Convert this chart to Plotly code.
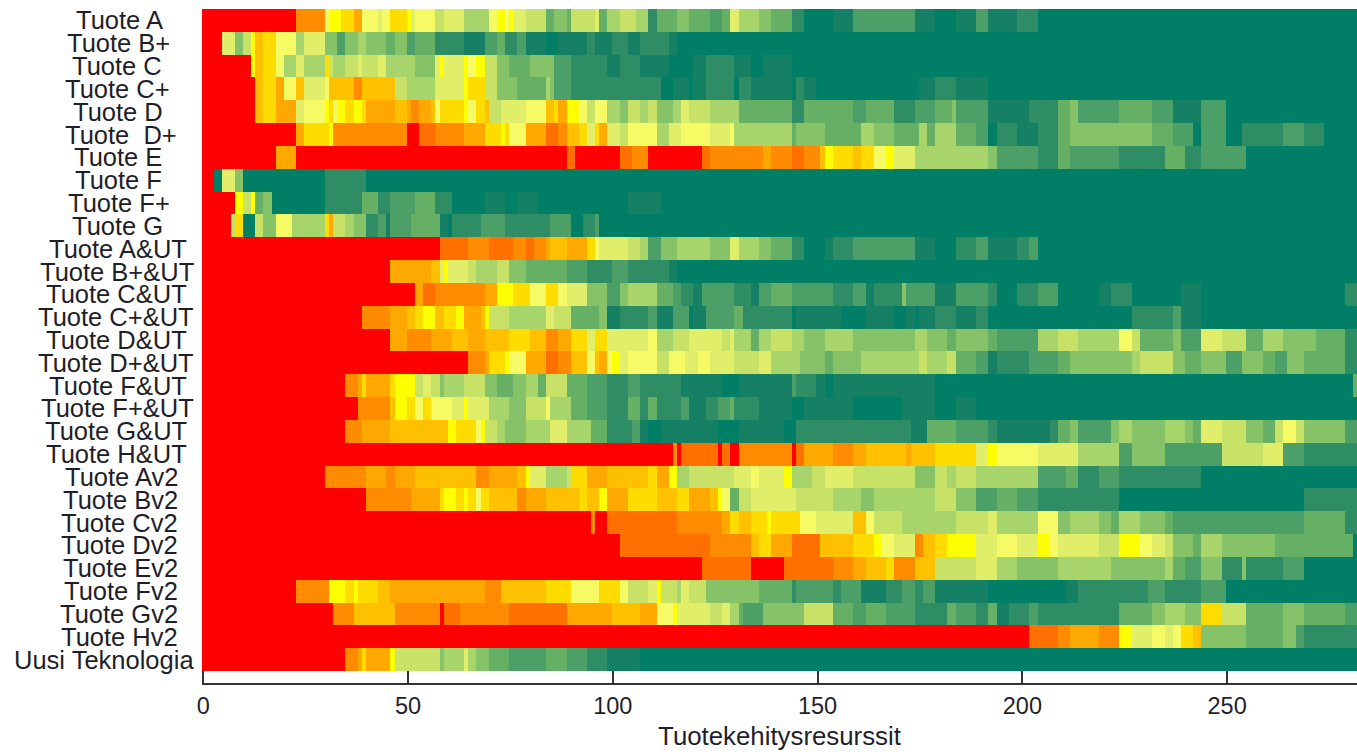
import plotly.graph_objects as go

# Rows as (end column, level) pairs; level 0 = red ... 16 = dark green
products = ["Tuote A","Tuote B+","Tuote C","Tuote C+","Tuote D","Tuote  D+","Tuote E","Tuote F","Tuote F+","Tuote G",
            "Tuote A&UT","Tuote B+&UT","Tuote C&UT","Tuote C+&UT","Tuote D&UT","Tuote D+&UT","Tuote F&UT","Tuote F+&UT","Tuote G&UT","Tuote H&UT",
            "Tuote Av2","Tuote Bv2","Tuote Cv2","Tuote Dv2","Tuote Ev2","Tuote Fv2","Tuote Gv2","Tuote Hv2","Uusi Teknologia"]
label_right = [163,170,162,170,163,177,162,162,170,163,187,194,187,194,187,194,187,194,187,187,178,178,178,178,178,178,178,178,194]

level_colors = ["#FF0000","#FF7000","#FF8C00","#FFA800","#FFC000","#FFDC00","#FFFF00","#F6FA64","#E0EE6A","#C8E268",
                "#A8D46C","#86C268","#66B066","#4C9F66","#2E8D64","#168064","#007F66"]

ticks_x = [0,50,100,150,200,250]
n_cols = 282

r_a = [(23,0),(30,2),(31,7),(34,6),(37,5),(39,3),(43,7),(44,8),(46,7),(50,5),(51,6),(52,8),(57,7),(59,9),(63.7,8),(70,10),(72,7),(74,6),(75,7),(76,6),(79,8),(84,9),(86,12),(89,11),(90,12),(96,9),(97,8),(99,12),(102,10),(106,9),(109,10),(111,14),(116,12),(119,11),(124,12),(127,13),(129,12),(131,8),(136,10),(139,11),(144,12),(147,14),(154,16),(159,15),(167,13),(174,13),(179,15),(184,16),(189,15),(192,13),(199,15),(204,14),(282,16)]
r_bp = [(5,0),(8,8),(10,11),(12,9),(13,6),(15,4),(18,5),(23,7),(25,10),(30,8),(33,11),(35,13),(38,11),(40,10),(45,11),(47,12),(50,11),(52,13),(57,12),(64,14),(69,15),(72,13),(74,12),(77,14),(79,13),(84,15),(87,16),(94,15),(96,14),(100,15),(104,14),(107,15),(114,14),(116,15),(282,16)]
r_c = [(12,0),(13,6),(15,4),(18,5),(20,7),(23,10),(25,8),(30,10),(31,5),(32,9),(35,10),(38,9),(39,8),(43,9),(45,8),(47,10),(52,10),(57,11),(58,8),(59,6),(64,8),(65,6),(67,7),(69,6),(72,9),(75,11),(80,12),(84,11),(86,11),(90,13),(97,14),(99,14),(102,15),(107,14),(114,15),(120,16),(123,15),(130,14),(134,15),(137,16),(144,15),(282,16)]
r_cp = [(13,0),(15,4),(18,5),(20,3),(23,7),(25,4),(30,8),(31,7),(35,4),(37,4),(39,2),(43,4),(47,4),(50,9),(52,10),(57,10),(59,8),(64,8),(65,6),(69,5),(72,9),(77,11),(80,12),(84,12),(85,10),(86,11),(90,13),(107,14),(112,14),(115,16),(119,15),(120,16),(123,15),(130,14),(131,16),(134,14),(137,15),(144,15),(145,16),(147,14),(150,15),(175,16),(179,15),(184,14),(192,15),(282,16)]
r_d = [(13,0),(15,4),(18,5),(23,3),(25,8),(30,7),(31,6),(32,5),(33,7),(35,6),(37,5),(39,6),(40,5),(47,3),(50,4),(51,3),(53,2),(56,3),(57,4),(58,7),(61,5),(64,5),(65,6),(67,7),(69,5),(70,4),(73,9),(79,8),(84,7),(86,4),(87,5),(89,3),(92,6),(94,7),(96,9),(99,7),(102,10),(104,11),(107,9),(109,10),(111,9),(115,11),(117,10),(119,8),(124,9),(131,10),(144,12),(147,14),(154,12),(159,12),(162,13),(169,12),(174,14),(179,13),(183,12),(184,11),(192,13),(202,15),(209,14),(212,12),(214,11),(224,13),(232,12),(237,13),(244,15),(250,13),(282,16)]
r_dp = [(23,0),(25,3),(31,5),(32,6),(50,2),(53,0),(57,1),(64,2),(69,3),(73,5),(74,6),(75,5),(79,7),(84,3),(87,1),(89,2),(92,4),(94,5),(96,8),(97,5),(99,3),(102,8),(104,9),(111,7),(114,10),(117,8),(124,7),(129,8),(130,7),(144,10),(145,12),(152,11),(161,12),(164,10),(169,11),(174,12),(175,12),(177,10),(179,12),(184,10),(189,12),(192,13),(194,16),(199,14),(204,15),(209,14),(212,12),(219,11),(232,11),(237,12),(242,13),(244,16),(250,13),(254,16),(264,14),(269,13),(274,14),(282,16)]
r_e = [(18,0),(23,3),(89,0),(91,1),(102,0),(105,1),(109,2),(122,0),(124,1),(131,2),(137,2),(139,3),(144,2),(147,1),(151,2),(152,4),(154,6),(159,5),(161,4),(164,5),(167,7),(169,6),(174,8),(177,10),(192,10),(194,11),(199,13),(204,13),(209,14),(212,12),(224,13),(235,14),(240,12),(244,14),(255,13),(282,16)]
r_f = [(3,0),(5,16),(8,8),(10,11),(30,16),(40,14),(282,16)]
r_fp = [(8,0),(10,6),(12,9),(13,6),(15,12),(17,11),(30,16),(39,14),(43,12),(46,14),(52,13),(57,12),(61,14),(69,16),(74,15),(77,16),(82,15),(104,16),(112,15),(282,16)]
r_g = [(7,0),(8,9),(10,5),(13,16),(15,9),(18,11),(22,7),(30,10),(31,5),(32,3),(35,9),(37,10),(40,11),(43,14),(45,13),(46,15),(51,13),(58,12),(60,15),(61,16),(68,14),(74,13),(85,14),(90,13),(93,16),(96,14),(97,13),(282,16)]
r_a_ut = [(58,0),(65,1),(70,2),(76,1),(79,2),(81,1),(84,2),(85,3),(89,4),(94,3),(96,5),(97,7),(104,8),(107,9),(109,10),(112,13),(116,11),(124,10),(129,11),(131,8),(136,10),(139,11),(144,12),(147,14),(152,16),(154,15),(159,14),(174,13),(179,15),(184,16),(189,14),(192,13),(199,15),(202,14),(204,13),(282,16)]
r_bp_ut = [(46,0),(56,3),(58,4),(59,8),(60,6),(65,8),(67,9),(72,10),(75,9),(79,11),(84,12),(89,12),(94,13),(100,14),(104,13),(114,14),(116,15),(282,16)]
r_c_ut = [(52,0),(54,3),(57,1),(69,2),(72,3),(76,6),(80,5),(84,7),(87,5),(89,7),(94,8),(99,11),(102,13),(104,11),(111,10),(115,12),(117,13),(120,14),(122,15),(130,13),(134,14),(136,15),(139,13),(144,12),(154,13),(159,14),(162,13),(164,15),(171,14),(172,11),(179,13),(184,15),(192,13),(194,14),(199,16),(204,14),(209,13),(219,16),(222,15),(227,14),(239,16),(244,15),(279,16),(282,14)]
r_cp_ut = [(39,0),(46,2),(50,3),(52,4),(54,5),(57,6),(59,4),(62,5),(64,6),(68,3),(69,4),(70,6),(75,9),(84,10),(86,8),(90,9),(97,12),(99,11),(102,15),(109,14),(111,13),(115,15),(119,13),(120,16),(123,15),(130,13),(132,12),(144,14),(145,16),(156,15),(162,16),(169,15),(172,16),(174,15),(175,16),(179,15),(184,14),(189,15),(192,14),(227,16),(237,14),(239,13),(244,15),(282,16)]
r_d_ut = [(46,0),(50,3),(56,2),(61,3),(65,4),(69,3),(75,4),(80,5),(84,4),(87,2),(90,3),(94,5),(96,8),(99,5),(104,8),(109,8),(111,7),(115,10),(119,9),(127,8),(129,9),(130,8),(134,10),(136,12),(139,10),(144,9),(147,10),(152,11),(159,10),(174,11),(177,10),(182,11),(184,12),(192,11),(194,12),(204,13),(209,10),(214,9),(224,10),(227,7),(229,9),(237,12),(239,11),(244,13),(249,8),(255,9),(259,12),(264,10),(272,11),(279,12),(282,14)]
r_dp_ut = [(65,0),(69,2),(70,3),(74,5),(75,6),(79,7),(84,3),(87,1),(90,2),(94,4),(96,7),(97,4),(99,3),(100,7),(102,6),(104,8),(109,7),(111,7),(114,9),(118,7),(121,8),(124,7),(127,8),(130,8),(136,9),(139,8),(146,10),(152,11),(154,12),(161,11),(171,10),(175,10),(177,9),(182,10),(184,9),(189,12),(192,13),(194,15),(202,14),(209,13),(212,12),(224,11),(227,11),(229,10),(237,9),(240,11),(244,12),(250,11),(254,13),(259,11),(262,12),(265,13),(269,11),(279,12),(282,14)]
r_f_ut = [(35,0),(38,2),(39,3),(40,5),(46,3),(47,5),(52,6),(54,9),(56,8),(58,9),(59,11),(64,10),(69,9),(72,11),(76,12),(79,11),(82,10),(84,12),(89,9),(94,12),(99,13),(104,14),(107,13),(117,14),(127,15),(131,16),(144,15),(145,13),(150,14),(152,15),(154,16),(179,15),(281,16),(282,12)]
r_fp_ut = [(38,0),(46,2),(47,4),(50,6),(52,5),(54,7),(56,5),(61,7),(64,8),(65,6),(70,8),(75,10),(79,11),(84,9),(85,7),(90,10),(94,12),(99,13),(104,14),(107,12),(109,14),(111,12),(117,14),(119,13),(123,15),(126,14),(129,13),(130,12),(136,14),(144,15),(147,16),(159,15),(171,16),(179,15),(184,16),(189,15),(282,16)]
r_g_ut = [(35,0),(39,2),(46,3),(60,4),(62,6),(67,5),(68,7),(69,6),(72,9),(74,10),(79,11),(85,10),(89,8),(95,10),(99,12),(105,14),(107,13),(109,15),(112,16),(126,15),(131,16),(142,15),(145,16),(160,14),(173,14),(177,15),(184,12),(192,13),(194,14),(207,15),(209,14),(212,12),(214,11),(222,13),(224,11),(227,10),(235,11),(240,10),(242,11),(244,12),(249,8),(255,9),(259,11),(262,12),(264,9),(267,7),(269,9),(279,11),(282,13)]
r_h_ut = [(115,0),(116,2),(117,0),(126,1),(127,0),(129,1),(131,0),(144,2),(145,0),(147,1),(154,3),(159,2),(162,3),(172,4),(173,3),(179,4),(189,5),(192,8),(194,6),(204,7),(214,8),(224,10),(227,13),(235,11),(249,13),(255,9),(259,9),(264,8),(269,13),(282,14)]
r_av2 = [(30,0),(40,2),(45,3),(47,2),(52,3),(67,4),(70,2),(77,3),(79,4),(80,6),(84,8),(89,10),(90,9),(94,5),(99,3),(109,4),(111,5),(114,3),(116,6),(119,10),(130,9),(134,8),(136,7),(142,8),(144,6),(149,10),(152,9),(159,8),(174,9),(179,11),(182,9),(184,10),(189,9),(204,10),(211,13),(214,12),(219,14),(224,13),(244,14),(282,16)]
r_bv2 = [(40,0),(51,2),(58,3),(59,5),(62,6),(64,5),(65,6),(67,5),(68,7),(70,5),(77,4),(79,2),(84,3),(87,4),(92,4),(94,5),(97,4),(99,6),(104,3),(111,5),(116,4),(119,5),(124,3),(126,4),(127,6),(129,7),(131,12),(134,9),(145,8),(154,9),(161,10),(164,11),(174,10),(179,10),(184,9),(189,11),(194,13),(199,12),(204,13),(224,14),(269,16),(282,14)]
r_cv2 = [(95,0),(96,2),(99,0),(109,1),(116,1),(127,2),(129,3),(131,5),(134,4),(138,5),(139,6),(146,5),(150,7),(159,8),(162,4),(164,7),(171,9),(174,10),(184,10),(192,9),(194,8),(204,10),(209,7),(212,11),(219,10),(222,11),(224,12),(229,10),(235,11),(237,12),(269,13),(279,12),(282,14)]
r_dv2 = [(102,0),(124,1),(134,2),(136,4),(139,5),(144,3),(151,1),(159,4),(164,5),(166,6),(169,7),(174,8),(176,2),(179,4),(182,5),(189,6),(194,8),(199,7),(204,8),(207,6),(209,7),(219,8),(224,9),(229,6),(232,7),(235,8),(237,9),(242,11),(244,12),(249,10),(255,11),(262,11),(281,12),(282,16)]
r_ev2 = [(122,0),(134,1),(142,0),(154,1),(159,2),(162,3),(167,4),(169,5),(174,2),(179,4),(189,9),(194,8),(199,10),(209,11),(222,10),(235,11),(237,10),(240,12),(244,13),(249,11),(254,14),(255,11),(264,14),(269,13),(282,16)]
r_fv2 = [(23,0),(31,2),(35,6),(37,5),(38,6),(43,5),(46,4),(57,3),(69,3),(73,2),(80,4),(84,4),(90,5),(97,7),(102,5),(104,7),(109,9),(111,8),(112,6),(116,9),(117,10),(119,8),(123,9),(136,11),(144,12),(145,14),(154,13),(156,14),(161,13),(167,15),(171,14),(174,13),(176,14),(179,13),(184,15),(192,15),(211,16),(214,15),(231,14),(235,13),(244,14),(250,13),(282,16)]
r_gv2 = [(32,0),(37,2),(47,4),(58,2),(59,0),(63,1),(75,2),(89,1),(94,3),(100,3),(107,4),(111,3),(115,7),(116,6),(124,8),(127,9),(129,8),(131,10),(132,12),(137,13),(147,11),(154,9),(159,12),(162,13),(167,12),(174,13),(182,14),(184,12),(189,13),(192,14),(194,12),(197,15),(202,14),(204,13),(224,14),(232,12),(235,11),(240,10),(244,11),(249,5),(255,9),(264,12),(269,11),(279,12),(282,13)]
r_hv2 = [(202,0),(209,1),(212,2),(219,3),(224,2),(227,6),(232,8),(235,7),(237,8),(239,7),(242,5),(244,4),(255,11),(264,12),(267,11),(269,13),(282,14)]
r_uusi = [(35,0),(38,2),(39,3),(40,5),(46,3),(47,6),(52,9),(58,9),(59,11),(64,10),(65,8),(67,10),(70,11),(75,12),(84,13),(89,12),(94,13),(99,14),(107,15),(282,16)]

all_rows = [r_a,r_bp,r_c,r_cp,r_d,r_dp,r_e,r_f,r_fp,r_g,r_a_ut,r_bp_ut,r_c_ut,r_cp_ut,r_d_ut,r_dp_ut,r_f_ut,r_fp_ut,r_g_ut,r_h_ut,r_av2,r_bv2,r_cv2,r_dv2,r_ev2,r_fv2,r_gv2,r_hv2,r_uusi]

def expand(runs):
    row, start = [], 0
    for end, level in runs:
        end = int(round(end))
        row += [level] * max(0, end - start)
        start = max(start, end)
    return row[:n_cols] + [row[-1]] * (n_cols - len(row))

z = [expand(r) for r in all_rows]
cols = [i + 0.2 for i in range(n_cols)]
scale = [[i / (len(level_colors) - 1), c] for i, c in enumerate(level_colors)]

fig = go.Figure(go.Heatmap(z=z, x=cols, y=list(range(len(products))), colorscale=scale, zmin=0, zmax=16,
                           showscale=False, xgap=0, ygap=0))
FONT = "Liberation Sans"
TXT = "#1f1f2a"
for i, (p, r) in enumerate(zip(products, label_right)):
    fig.add_annotation(text=p.replace("  ", "\u00a0 "), x=0, xref="paper", y=i, yref="y", xanchor="right", yanchor="middle",
                       xshift=r - 202 + 2, yshift=0, showarrow=False, font=dict(family=FONT, size=25.5, color=TXT))
fig.update_layout(
    width=1357, height=754, autosize=False, margin=dict(l=202, r=0, t=9, b=70),
    paper_bgcolor="white", plot_bgcolor="white",
    xaxis=dict(range=[-0.3, 281.7], anchor="free", position=0, showline=True, linecolor="#333333", linewidth=2,
               ticks="inside", ticklen=12, tickwidth=2, tickcolor="#333333", tickvals=ticks_x, showgrid=False, zeroline=False,
               tickfont=dict(family=FONT, size=23.5, color=TXT), ticklabelstandoff=1,
               title=dict(text="Tuotekehitysresurssit", font=dict(family=FONT, size=25.8, color=TXT), standoff=8)),
    yaxis=dict(range=[28.5, -0.5], domain=[0.0193, 1], visible=False),
)
fig.write_html("out.html", config={"displayModeBar": False},
               post_script="document.body.style.margin='0';document.documentElement.style.overflow='hidden';")
